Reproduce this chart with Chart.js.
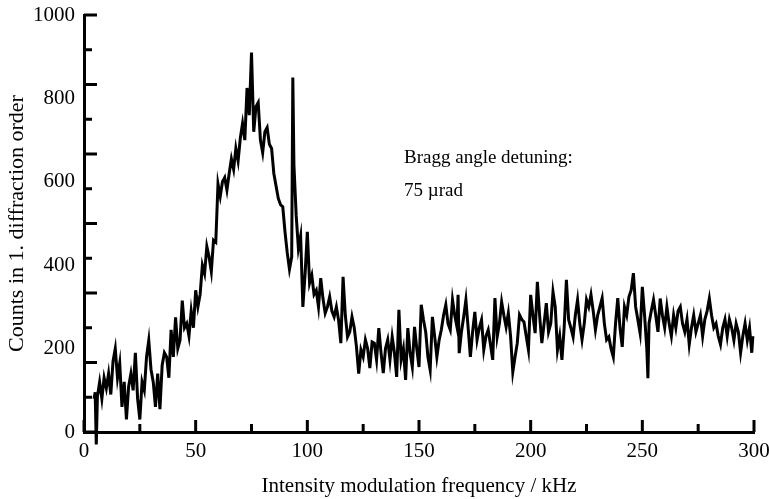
<!DOCTYPE html>
<html>
<head>
<meta charset="utf-8">
<script src="https://cdn.jsdelivr.net/npm/chart.js@4.4.0/dist/chart.umd.min.js"></script>
<style>
    html, body { margin: 0; padding: 0; background: #fff; }
    #wrap { width: 769px; height: 499px; }
</style>
</head>
<body>
<div id="wrap"><canvas id="myChart" width="769" height="499"></canvas></div>
<script>
// data (kHz / counts)
var freq = [
    4.5, 5, 5.5, 6, 7, 8, 9, 10, 11, 12, 13, 14, 15, 16, 17, 18, 19, 20, 21, 22, 23, 24, 25, 26, 27, 28, 29, 30,
    31, 32, 33, 34, 35, 36, 37, 38, 39, 40, 41, 42, 43, 44, 45, 46, 47, 48, 49, 50, 51, 52, 53, 54, 55, 56, 57, 58, 59, 60,
    61, 62, 63, 64, 65, 66, 67, 68, 69, 70, 71, 72, 73, 74, 75, 76, 77, 78, 79, 80, 81, 82, 83, 84, 85, 86, 87, 88, 89, 90,
    91, 92, 93, 93.5, 94, 95, 96, 97, 98, 99, 100, 101, 102, 103, 104, 105, 106, 107, 108, 109, 110, 111, 112, 113, 114, 115, 116, 117, 118, 119, 120,
    121, 122, 123, 124, 125, 126, 127, 128, 129, 130, 131, 132, 133, 134, 135, 136, 137, 138, 139, 140, 141, 142, 143, 144, 145, 146, 147, 148, 149, 150,
    151, 152, 153, 154, 155, 156, 157, 158, 159, 160, 161, 162, 163, 164, 165, 166, 167, 167.5, 168, 169, 170, 171, 172, 173, 174, 175, 176, 177, 178, 179, 180,
    181, 182, 183, 184, 185, 186, 187, 188, 189, 190, 191, 192, 193, 194, 195, 196, 197, 198, 199, 200, 201, 202, 203, 204, 205, 206, 207, 208, 209, 210,
    211, 212, 213, 214, 215, 216, 217, 218, 219, 220, 221, 222, 223, 224, 225, 226, 227, 228, 229, 230, 231, 232, 233, 234, 235, 236, 237, 238, 239, 240,
    241, 242, 243, 244, 245, 246, 247, 248, 249, 250, 251, 252, 252.5, 253, 254, 255, 256, 257, 258, 259, 260, 261, 262, 263, 264, 265, 266, 267, 268, 269, 270,
    271, 272, 273, 274, 275, 276, 277, 278, 279, 280, 281, 282, 283, 284, 285, 286, 287, 288, 289, 290, 291, 292, 293, 294, 295, 296, 297, 298, 299, 299.5
];
var counts = [
    80, 95, -30, 85, 120, 80, 130, 105, 140, 90, 170, 200, 130, 165, 60, 120, 30, 110, 140, 100, 190, 80, 30, 120, 100, 180, 220, 150,
    120, 60, 140, 55, 160, 190, 180, 130, 245, 180, 275, 200, 220, 315, 250, 260, 230, 290, 250, 340, 300, 330, 400, 380, 445, 420, 385, 460, 455, 595,
    565, 600, 610, 580, 620, 655, 630, 680, 650, 705, 740, 700, 825, 760, 910, 720, 780, 790, 700, 670, 720, 730, 690, 680, 620, 590, 560, 545, 540, 480,
    430, 390, 420, 850, 640, 520, 440, 470, 300, 380, 480, 357, 376, 330, 340, 300, 369, 320, 285, 300, 324, 290, 276, 300, 268, 213, 372, 280, 228, 240, 276,
    250, 204, 140, 197, 180, 221, 200, 153, 216, 213, 173, 249, 190, 141, 200, 221, 173, 228, 190, 132, 293, 173, 200, 125, 249, 190, 156, 252, 200, 156,
    305, 269, 240, 180, 149, 276, 230, 180, 220, 245, 280, 305, 260, 245, 317, 280, 252, 329, 189, 240, 276, 317, 250, 180, 240, 288, 221, 250, 269, 197, 230,
    245, 210, 173, 321, 228, 260, 312, 280, 252, 285, 230, 144, 180, 213, 281, 270, 264, 230, 197, 329, 280, 237, 360, 280, 213, 260, 309, 240, 260, 336,
    300, 197, 230, 173, 250, 365, 269, 250, 228, 280, 317, 260, 221, 260, 317, 300, 329, 290, 245, 280, 300, 321, 260, 221, 228, 200, 180, 260, 321, 250,
    204, 300, 280, 324, 340, 381, 300, 269, 237, 348, 280, 200, 129, 261, 290, 317, 280, 240, 320, 280, 250, 300, 260, 230, 280, 250, 290, 300, 260, 240, 270,
    210, 250, 280, 240, 260, 280, 230, 270, 290, 320, 280, 250, 260, 230, 210, 250, 270, 230, 270, 250, 220, 260, 240, 190, 230, 260, 220, 250, 190, 230
];
var xTickLabels = [0, 50, 100, 150, 200, 250, 300];
var yTickLabels = [0, 200, 400, 600, 800, 1000];
var noteLines = ["Bragg angle detuning:", "75 \u00b5rad"];

var FONT = "'Liberation Serif', 'Times New Roman', serif";

// inward tick marks + the note text
var extrasPlugin = {
    id: 'extras',
    afterDraw: function (chart) {
        var ctx = chart.ctx;
        var xs = chart.scales.x;
        var ys = chart.scales.y;
        ctx.save();
        ctx.strokeStyle = '#000';
        ctx.lineWidth = 3;
        ctx.beginPath();
        for (var i = 0; i <= 12; i++) {
            var py = ys.getPixelForValue(i * 1000 / 12);
            var len = (i % 2 === 0) ? 13 : 8;
            ctx.moveTo(xs.left, py);
            ctx.lineTo(xs.left + len, py);
        }
        for (var j = 0; j <= 12; j++) {
            var px = xs.getPixelForValue(j * 25);
            var len2 = (j % 2 === 0) ? 12 : 8;
            ctx.moveTo(px, ys.bottom);
            ctx.lineTo(px, ys.bottom - len2);
        }
        ctx.stroke();

        ctx.fillStyle = '#000';
        ctx.font = '19px ' + FONT;
        ctx.textBaseline = 'middle';
        ctx.textAlign = 'left';
        ctx.fillText(noteLines[0], xs.getPixelForValue(143.3), ys.getPixelForValue(657));
        ctx.fillText(noteLines[1], xs.getPixelForValue(143.3), ys.getPixelForValue(578));
        ctx.restore();
    }
};

var points = freq.map(function (f, i) { return { x: f, y: counts[i] }; });

new Chart(document.getElementById('myChart'), {
    type: 'line',
    data: {
        datasets: [{
            data: points,
            borderColor: '#000',
            borderWidth: 3,
            pointRadius: 0,
            tension: 0,
            clip: false
        }]
    },
    options: {
        responsive: false,
        animation: false,
        layout: { padding: { left: 0, right: 15, top: 15, bottom: 0 } },
        plugins: {
            legend: { display: false },
            tooltip: { enabled: false }
        },
        scales: {
            x: {
                type: 'linear',
                min: 0,
                max: 300,
                afterBuildTicks: function (scale) {
                    scale.ticks = xTickLabels.map(function (v) { return { value: v }; });
                },
                afterFit: function (scale) {
                    scale.height = 67;
                    scale.paddingLeft = 0;
                    scale.paddingRight = 0;
                },
                grid: { display: false, drawTicks: false },
                border: { display: true, color: '#000', width: 3 },
                ticks: {
                    color: '#000',
                    padding: 7,
                    maxRotation: 0,
                    font: { family: FONT, size: 21 }
                },
                title: {
                    display: true,
                    text: 'Intensity modulation frequency / kHz',
                    color: '#000',
                    padding: { top: 8, bottom: 0 },
                    font: { family: FONT, size: 21 }
                }
            },
            y: {
                min: 0,
                max: 1000,
                afterBuildTicks: function (scale) {
                    scale.ticks = yTickLabels.map(function (v) { return { value: v }; });
                },
                afterFit: function (scale) {
                    scale.width = 84;
                    scale.paddingTop = 0;
                    scale.paddingBottom = 0;
                },
                grid: { display: false, drawTicks: false },
                border: { display: true, color: '#000', width: 3 },
                ticks: {
                    color: '#000',
                    padding: 9,
                    font: { family: FONT, size: 21 },
                    callback: function (v) { return String(v); }
                },
                title: {
                    display: true,
                    text: 'Counts in 1. diffraction order',
                    color: '#000',
                    padding: { top: 4, bottom: 4 },
                    font: { family: FONT, size: 22 }
                }
            }
        }
    },
    plugins: [extrasPlugin]
});
</script>
</body>
</html>
